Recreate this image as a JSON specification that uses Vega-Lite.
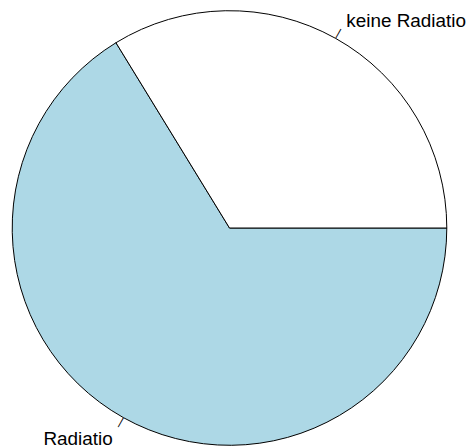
{
  "$schema": "https://vega.github.io/schema/vega-lite/v6.json",
  "width": 459,
  "height": 440,
  "autosize": {"type": "none"},
  "padding": {"left": 0, "top": 8, "right": 9, "bottom": 0},
  "background": "white",
  "data": {
    "values": [
      {"group": "Radiatio", "n": 53},
      {"group": "keine Radiatio", "n": 27}
    ]
  },
  "encoding": {
    "theta": {
      "field": "n",
      "type": "quantitative",
      "stack": true,
      "scale": {"range": [1.5707963, 7.8539816]}
    },
    "order": {"field": "n", "sort": "descending"}
  },
  "layer": [
    {
      "mark": {"type": "arc", "outerRadius": 217.3, "stroke": "black", "strokeWidth": 1},
      "encoding": {
        "color": {
          "field": "group",
          "type": "nominal",
          "scale": {"domain": ["keine Radiatio", "Radiatio"], "range": ["#FFFFFF", "#ADD8E6"]},
          "legend": null
        }
      }
    },
    {
      "mark": {
        "type": "text",
        "text": "|",
        "radius": 222.7,
        "angle": 29.25,
        "fontSize": 11.6,
        "font": "Liberation Sans",
        "color": "black",
        "baseline": "middle",
        "align": "center"
      }
    },
    {
      "mark": {
        "type": "text",
        "radius": 239,
        "dy": 2,
        "fontSize": 18.9,
        "font": "Liberation Sans",
        "color": "black",
        "baseline": "middle",
        "align": {"expr": "datum.group == 'Radiatio' ? 'right' : 'left'"}
      },
      "encoding": {
        "text": {"field": "group", "type": "nominal"}
      }
    }
  ],
  "config": {"view": {"stroke": null}}
}
